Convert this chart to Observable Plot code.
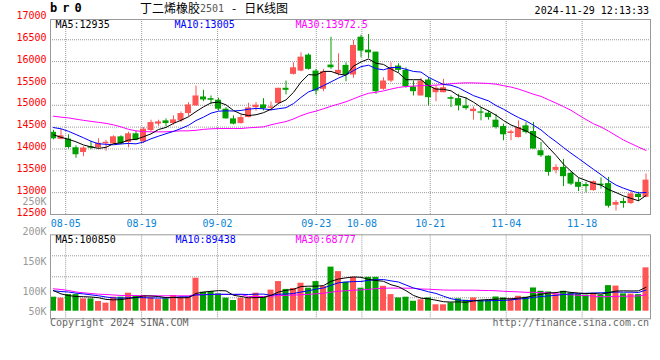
<!DOCTYPE html>
<html><head><meta charset="utf-8">
<script src="https://cdn.jsdelivr.net/npm/d3@7"></script>
<script src="https://cdn.jsdelivr.net/npm/@observablehq/plot@0.6"></script>
<style>
body{margin:0;background:#fff;}
#wrap{position:relative;width:660px;height:360px;overflow:hidden;background:#fff;font-family:"DejaVu Sans Mono",monospace;}
#wrap > *{position:absolute;}
.t10{font-size:10px;line-height:12px;white-space:pre;}
</style></head><body><div id="wrap">
<div id="br" style="left:50px;top:1px;font-weight:bold;font-size:12px;line-height:14px;letter-spacing:5px;">br0</div>
<div id="title1" style="left:140px;top:2px;font-family:'Noto Sans CJK SC';font-size:12px;line-height:12px;white-space:pre;"></div>
<div id="title2" style="left:200px;top:3px;font-size:10px;line-height:12px;color:#555;"></div>
<div id="title3" style="left:232px;top:2px;font-family:'Noto Sans CJK SC';font-size:12px;line-height:12px;white-space:pre;"></div>
<div id="stamp" class="t10" style="right:11px;top:5px;color:#000;"></div>
<div id="copy" class="t10" style="left:50px;top:317px;color:#666;"></div>
<div id="url" class="t10" style="right:11px;top:317px;color:#666;"></div>
</div>
<script>
// ---------- data ----------
const titleMain = "丁二烯橡胶";
const titleCode = "2501";
const titleTail = "-   日K线图";
const stampText = "2024-11-29 12:13:33";
const copyText = "Copyright 2024 SINA.COM";
const urlText = "http://finance.sina.com.cn";

const dates = ["08-01","08-02","08-05","08-06","08-07","08-08","08-09","08-12","08-13","08-14","08-15","08-16","08-19","08-20","08-21","08-22","08-23","08-26","08-27","08-28","08-29","08-30",
"09-02","09-03","09-04","09-05","09-06","09-09","09-10","09-11","09-12","09-13","09-18","09-19","09-20","09-23","09-24","09-25","09-26","09-27","09-30",
"10-08","10-09","10-10","10-11","10-14","10-15","10-16","10-17","10-18","10-21","10-22","10-23","10-24","10-25","10-28","10-29","10-30","10-31",
"11-01","11-04","11-05","11-06","11-07","11-08","11-11","11-12","11-13","11-14","11-15","11-18","11-19","11-20","11-21","11-22","11-25","11-26","11-27","11-28","11-29"];

const open = [14381,14221,14226,14028,13920,14050,14028,14119,14112,14278, 14148,14347,14164,14422,14568,14643,14582,14643,14810,14985,
15190,15152,15115,14910,14689,14582,14718,14946,15008,14933, 15038,15389,15708,15783,16148,15783,15366,15920,15722,15913,
15692,16558,16262,16216,15366,15555,15897,15799,15418,15213, 15578,15288,15288,15174,15152,14985,14855,14848,14819,14659,
14513,14354,14262,14529,14399,13959,13834,13510,13578,13442, 13236,13184,13047,13195,13207,12712,12796,12751,12963,12894];
const high = [14427,14454,14324,14073,14050,14176,14233,14199,14301,14301, 14386,14399,14490,14659,14659,14689,14757,14848,15060,15441,
15343,15213,15161,14946,14757,14773,15047,15060,15152,15076, 15389,15555,15972,16200,16178,15822,15822,16558,16178,15972,
16483,16604,16620,16216,15630,15972,15950,15858,15555,15617, 15630,15441,15594,15213,15252,15174,14962,14946,14871,14796,
14568,14431,14643,14604,14604,14148,13845,13640,13761,13464, 13321,13236,13268,13337,13350,12819,12876,13047,13008,13428];
const low = [14210,14210,13998,13784,13822,13982,13982,13948,14096,14096, 14028,14187,14126,14399,14518,14506,14545,14604,14741,14985,
15083,15024,14871,14682,14552,14568,14712,14864,14871,14871, 15024,15236,15692,15767,15806,15236,15311,15822,15669,15539,
15617,16086,16073,15252,15343,15516,15744,15389,15213,15213, 14985,15083,15288,14946,14871,14887,14659,14643,14659,14454,
14187,14187,14249,14340,13998,13806,13378,13428,13138,13161, 13024,12995,13031,13081,12648,12580,12644,12728,12796,12881];
const close = [14233,14301,14034,13868,14021,14016,14130,14153,14278,14119, 14347,14203,14454,14604,14620,14582,14666,14810,15008,15213,
15122,15115,14910,14689,14568,14718,14940,15001,14924,14962, 15389,15343,15858,16102,15822,15327,15767,15858,15799,15692,
16369,16239,16200,15311,15555,15845,15799,15418,15311,15555, 15174,15389,15402,15138,14985,14924,14910,14819,14718,14490,
14324,14392,14490,14376,13998,13845,13464,13578,13366,13195, 13122,13138,13252,13161,12689,12774,12751,12972,12888,13287];
const volume = [59000,55000,70000,70000,52000,52000,41000,34000,59000,59000, 76000,62000,66000,57000,49000,52000,66000,59000,59000,139000,
80000,83000,73000,55000,45000,55000,55000,76000,59000,89000, 125000,92000,96000,118000,97000,125000,104000,186000,167000,122000,
143000,97000,143000,143000,105000,70000,56000,59000,42000,48000, 56000,27000,27000,35000,52000,46000,56000,46000,46000,60000,
56000,52000,63000,59000,98000,84000,81000,70000,84000,77000, 72000,68000,75000,68000,108000,106000,73000,72000,70000,183000];

// moving-average values before enough history exists
const priceMa5Head = [14324,14267,14221,14164];
const priceMa10Head = [14490,14461,14404,14331,14256,14176,14119,14107,14096];
const priceMa30Head = [14750,14728,14712,14682,14655,14632,14609,14586,14552,14506,14449,14415,14399,14392,14392,14392,14404,14415,14415,14427,14449,14461,14468,14468,14468,14468,14484,14495,14506];
const volMa5Head = [87000,73000,66000,62000];
const volMa10Head = [86000,83000,81000,76000,73000,69000,65000,60000,56000];
const volMa30Head = [94500,91600,87400,81000,77600,74700,71700,70500,68400,66300,66300,66300,65000,65000,65000,65000,65000,65000,65000,70500,70500,70500,70500,70500,70500,70500,62000,62000,62000];

const priceMaText = ["MA5:12935","MA10:13005","MA30:13972.5"];
const volMaText = ["MA5:100850","MA10:89438","MA30:68777"];
const maColors = ["#000000","#0000ff","#ff00ff"];

const priceTicks = [12500,13000,13500,14000,14500,15000,15500,16000,16500,17000];
const volTicks = [100000,150000,200000,250000];
const volLowTick = [50000];
const tickDates = ["08-05","08-19","09-02","09-23","10-08","10-21","11-04","11-18"];

// ---------- build ----------
const UP = "#ff5555", DOWN = "#00a000", GRID = "#999999";
const N = dates.length;
function movingAvg(vals, n, head) {
  return vals.map((v, i) => i < n - 1 ? head[i] : d3.mean(vals.slice(i - n + 1, i + 1)));
}
const pma5 = movingAvg(close, 5, priceMa5Head), pma10 = movingAvg(close, 10, priceMa10Head), pma30 = movingAvg(close, 30, priceMa30Head);
const vma5 = movingAvg(volume, 5, volMa5Head), vma10 = movingAvg(volume, 10, volMa10Head), vma30 = movingAvg(volume, 30, volMa30Head);

const rows = dates.map((d, i) => ({
  i, x2: i + 0.8, xc: i + 0.4, date: d,
  open: open[i], high: high[i], low: low[i], close: close[i], vol: volume[i],
  col: close[i] >= open[i] ? UP : DOWN,
  pma5: pma5[i], pma10: pma10[i], pma30: pma30[i],
  vma5: vma5[i], vma10: vma10[i], vma30: vma30[i]
}));

// Sina places its date grid on a (N-1)-step lattice
const xTicks = tickDates.map(d => ({pos: dates.indexOf(d) * N / (N - 1), label: d}));
const labelAt = new Map(xTicks.map(t => [t.pos, t.label]));
const priceGrid = priceTicks.slice(1, -1);

const baseStyle = {background: "transparent", fontFamily: "'DejaVu Sans Mono', monospace", fontSize: "10px", overflow: "visible"};
const offsets = [5, 124, 245];

const pricePlot = Plot.plot({
  width: 660, height: 232,
  marginLeft: 50, marginRight: 10, marginTop: 17.4, marginBottom: 18,
  style: baseStyle,
  x: {domain: [0, N], axis: null, label: null},
  y: {domain: [12500, 17000], axis: null, label: null},
  color: {type: "identity"},
  marks: [
    Plot.ruleY(priceGrid, {stroke: GRID, strokeDasharray: "1,1"}),
    Plot.ruleX(xTicks, {x: "pos", stroke: GRID, strokeDasharray: "1,1", insetTop: 1.6}),
    Plot.axisY({ticks: priceTicks, tickSize: 0, tickPadding: 4, color: "#ff0000", dy: -2, label: null, tickFormat: d => String(d)}),
    Plot.axisX({ticks: xTicks.map(t => t.pos), tickSize: 0, tickPadding: 5, color: "#0a84d6", label: null, tickFormat: p => labelAt.get(p)}),
    Plot.ruleX(rows, {x: "xc", y1: "low", y2: "high", stroke: "col", strokeWidth: 1}),
    Plot.rect(rows, {x1: "i", x2: "x2", y1: "open", y2: "close", fill: "col"}),
    Plot.line(rows, {x: "xc", y: "pma30", stroke: maColors[2], strokeWidth: 1}),
    Plot.line(rows, {x: "xc", y: "pma10", stroke: maColors[1], strokeWidth: 1}),
    Plot.line(rows, {x: "xc", y: "pma5", stroke: maColors[0], strokeWidth: 1}),
    Plot.frame({stroke: GRID, insetTop: 1.6}),
    ...priceMaText.map((t, k) => Plot.text([t], {frameAnchor: "top-left", dx: offsets[k], dy: 3, fill: maColors[k], text: d => d}))
  ]
});

const volTop = 322400, volBottom = -32100;
const volGrid = [1, 2, 3].map(k => volTop - k * (volTop - volBottom) / 4);

const volPlot = Plot.plot({
  width: 660, height: 170,
  marginLeft: 50, marginRight: 10, marginTop: 44.3, marginBottom: 41.7,
  style: baseStyle,
  x: {domain: [0, N], axis: null, label: null},
  y: {domain: [volBottom, volTop], axis: null, label: null},
  color: {type: "identity"},
  marks: [
    Plot.ruleY(volGrid, {stroke: GRID, strokeDasharray: "1,1"}),
    Plot.ruleX(xTicks, {x: "pos", stroke: GRID, strokeDasharray: "1,1"}),
    Plot.rect(rows, {x1: "i", x2: "x2", y1: () => 0, y2: "vol", fill: "col"}),
    Plot.line(rows, {x: "xc", y: "vma30", stroke: maColors[2], strokeWidth: 1}),
    Plot.line(rows, {x: "xc", y: "vma10", stroke: maColors[1], strokeWidth: 1}),
    Plot.line(rows, {x: "xc", y: "vma5", stroke: maColors[0], strokeWidth: 1}),
    Plot.frame({stroke: GRID}),
    ...volMaText.map((t, k) => Plot.text([t], {frameAnchor: "top-left", dx: offsets[k] + (k === 1 ? 1 : 0), dy: 1, fill: maColors[k], text: d => d}))
  ]
});

// Sina's volume labels sit on their own label axis (30px per 50K; the lowest is held inside the panel)
const fmtK = d => (d / 1000) + "K";
const volAxis = Plot.plot({
  width: 50, height: 170, marginLeft: 46, marginRight: 0, marginTop: 11, marginBottom: 69,
  style: baseStyle,
  y: {type: "linear", domain: [100000, 250000], axis: null, label: null},
  marks: [
    Plot.axisY({ticks: volTicks, tickSize: 0, tickPadding: 0, color: "#999999", label: null, tickFormat: fmtK}),
    Plot.axisY({ticks: volLowTick, tickSize: 0, tickPadding: 0, color: "#999999", label: null, tickFormat: fmtK, dy: -10})
  ]
});

const wrap = document.getElementById("wrap");
[[pricePlot, 0], [volPlot, 190], [volAxis, 190]].forEach(([el, top]) => {
  el.style.position = "absolute"; el.style.left = "0px"; el.style.top = top + "px";
  wrap.insertBefore(el, wrap.firstChild);
});
document.getElementById("title1").textContent = titleMain;
document.getElementById("title2").textContent = titleCode;
document.getElementById("title3").textContent = titleTail;
document.getElementById("stamp").textContent = stampText;
document.getElementById("copy").textContent = copyText;
document.getElementById("url").textContent = urlText;
</script>
</body></html>
